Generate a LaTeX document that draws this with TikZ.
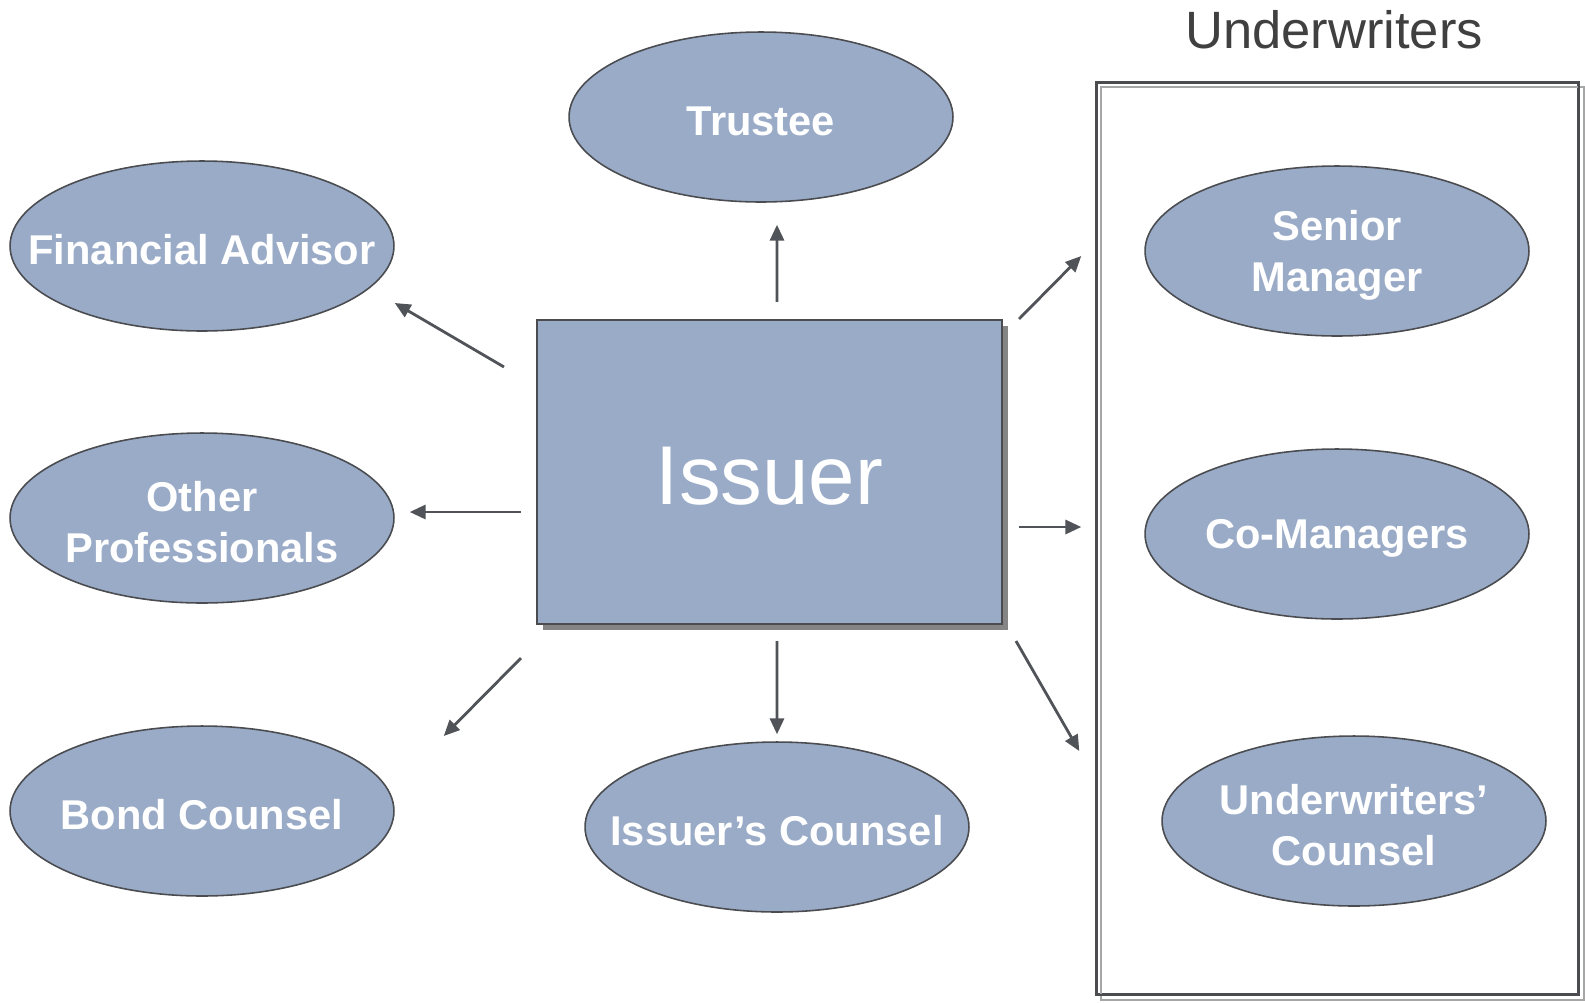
\documentclass[tikz,border=0pt]{standalone}
\usepackage{fontspec}
\setmainfont{Liberation Sans}
\usetikzlibrary{shapes.geometric,arrows.meta,shadows,calc}
\definecolor{partyfill}{HTML}{9AABC8}
\definecolor{edgegray}{HTML}{4A4C50}
\definecolor{arrowgray}{HTML}{505358}
\definecolor{titlegray}{HTML}{404040}
\tikzstyle{party}=[ellipse,draw=edgegray,line width=0.9pt,fill=partyfill,minimum width=7.68cm,minimum height=3.4cm,inner sep=0pt]
\tikzstyle{partytext}=[text=white,font=\bfseries\fontsize{23.7}{29}\selectfont,align=center,inner sep=0pt,yshift=-2.3pt]
\tikzstyle{issuerbox}=[rectangle,draw=edgegray,line width=1.2pt,fill=partyfill,minimum width=9.3cm,minimum height=6.08cm,drop shadow={shadow xshift=0.12cm,shadow yshift=-0.12cm,fill=black!48,opacity=1}]
\tikzstyle{issuertext}=[text=white,font=\fontsize{47.5}{57}\selectfont,inner sep=0pt,yshift=-2.3pt]
\tikzstyle{group}=[rectangle,draw=edgegray,line width=1pt,minimum width=9.62cm,minimum height=18.22cm]
\tikzstyle{groupedge}=[draw=black!35,line width=1pt]
\tikzstyle{grouptitle}=[text=titlegray,font=\fontsize{29.9}{36}\selectfont]
\tikzstyle{link}=[draw=arrowgray,line width=1.6pt,-{Triangle[length=9pt,width=8pt]}]

\begin{document}
\begin{tikzpicture}[x=0.02cm,y=-0.02cm]
  \useasboundingbox (0,0) rectangle (1585,1002);
  % underwriters group
  \node[group] (uwbox) at (1337.5,538.5) {};
  \draw[groupedge] ($(uwbox.north west)+(5,5)$) rectangle ($(uwbox.south east)+(5,5)$);
  \draw[edgegray,line width=1pt] (uwbox.north west) rectangle (uwbox.south east);
  \node[grouptitle] (uwtitle) at (1334,30) {Underwriters};
  % the issuer
  \node[issuerbox,label={[issuertext]center:Issuer}] (issuer) at (769.5,472) {};
  % the parties
  \node[party,label={[partytext]center:Trustee}] (trustee) at (761,117) {};
  \node[party,label={[partytext]center:Financial Advisor}] (fin) at (202,246) {};
  \node[party,label={[partytext]center:{Other\\Professionals}}] (other) at (202,518) {};
  \node[party,label={[partytext]center:Bond Counsel}] (bond) at (202,811) {};
  \node[party,label={[partytext]center:Issuer’s Counsel}] (icounsel) at (777,827) {};
  \node[party,label={[partytext]center:{Senior\\Manager}}] (senior) at (1337,251) {};
  \node[party,label={[partytext]center:Co-Managers}] (co) at (1337,534) {};
  \node[party,label={[partytext]center:{Underwriters’\\Counsel}}] (uc) at (1354,821) {};
  % arrows
  \draw[link] ($(issuer.north)+(7.5,-17)$) -- ($(trustee.south)+(16,22)$);
  \draw[link] ($(issuer.north west)+(-32,48)$) -- ($(fin.east)+(0,57)$);
  \draw[link] ($(issuer.west)+(-15,40)$) -- ($(other.east)+(15,-6)$);
  \draw[link] ($(issuer.south west)+(-15,33)$) -- ($(bond.east)+(49,-75)$);
  \draw[link] ($(issuer.south)+(7.5,16)$) -- ($(icounsel.north)+(0,-7)$);
  \draw[link] ($(issuer.north east)+(16,0)$) -- ($(senior.west)+(-63,5)$);
  \draw[link] ($(issuer.east)+(16,55)$) -- ($(co.west)+(-63,-7)$);
  \draw[link] ($(issuer.south east)+(13,16)$) -- ($(uc.west)+(-82,-70)$);
\end{tikzpicture}
\end{document}
